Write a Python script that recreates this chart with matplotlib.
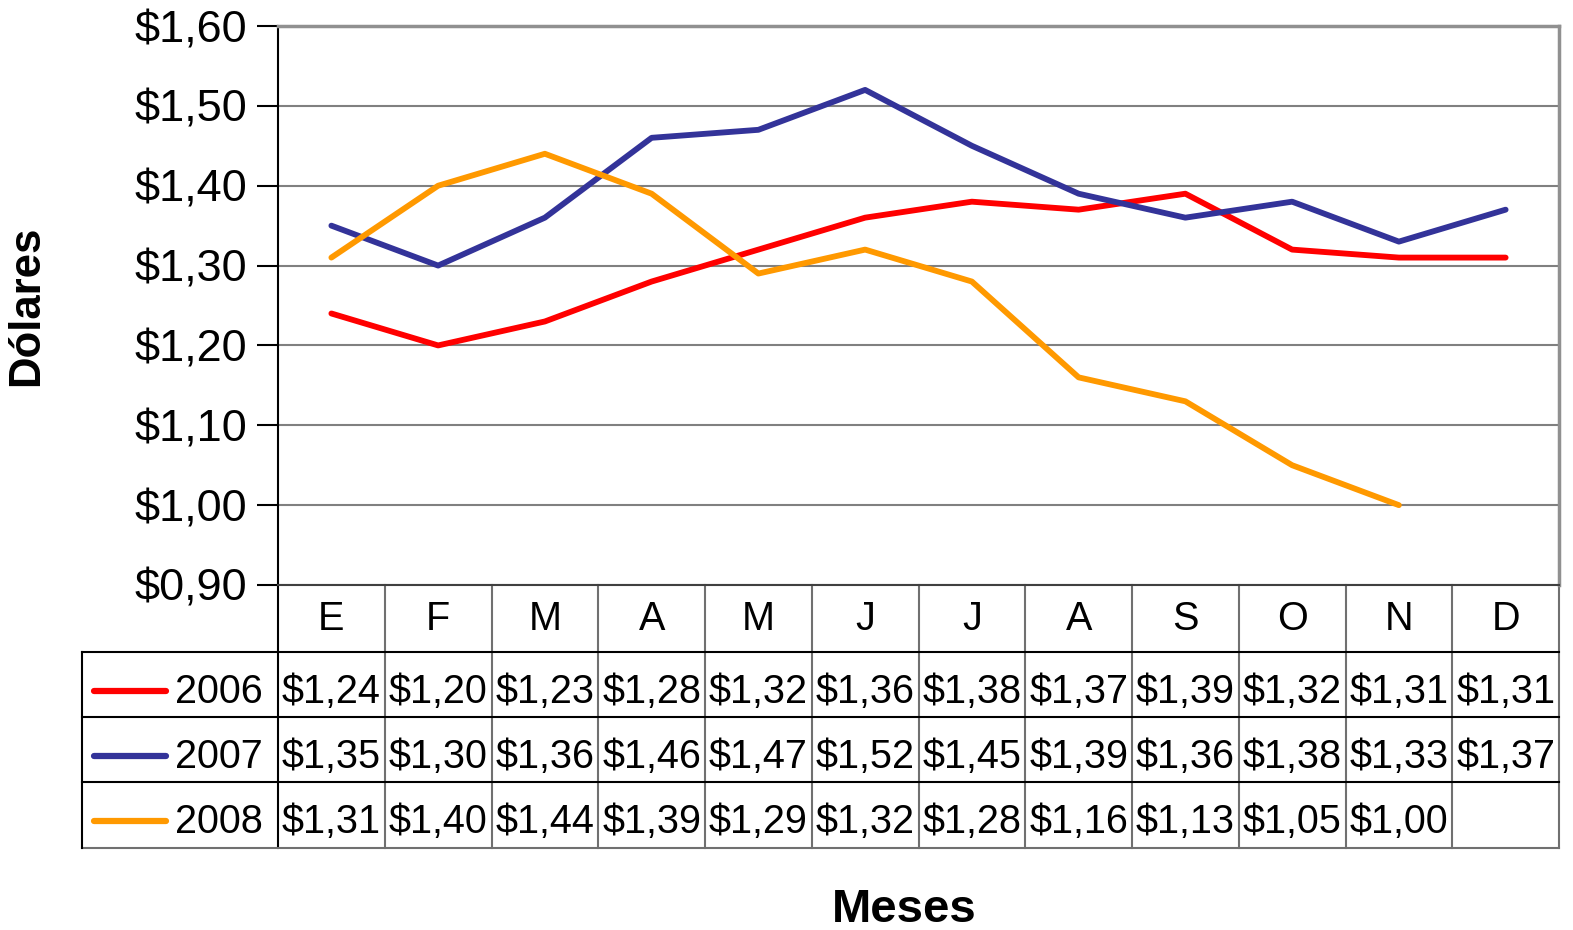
import matplotlib.pyplot as plt
from matplotlib.lines import Line2D

plt.rcParams['font.family'] = ['Liberation Sans', 'DejaVu Sans']

months = ['E', 'F', 'M', 'A', 'M', 'J', 'J', 'A', 'S', 'O', 'N', 'D']
v2006 = [1.24, 1.20, 1.23, 1.28, 1.32, 1.36, 1.38, 1.37, 1.39, 1.32, 1.31, 1.31]
v2007 = [1.35, 1.30, 1.36, 1.46, 1.47, 1.52, 1.45, 1.39, 1.36, 1.38, 1.33, 1.37]
v2008 = [1.31, 1.40, 1.44, 1.39, 1.29, 1.32, 1.28, 1.16, 1.13, 1.05, 1.00]
years = ['2006', '2007', '2008']
series = [v2006, v2007, v2008]
colors = ['#ff0000', '#333399', '#ff9900']
yticks = [0.90, 1.00, 1.10, 1.20, 1.30, 1.40, 1.50, 1.60]

W, H = 1573, 930
fig = plt.figure(figsize=(W / 100, H / 100), dpi=100)

def fx(px):
    return px / W

def fy(py):
    return 1 - py / H

# plot area
L, R, T, B = 278, 1559, 26, 585
ax = fig.add_axes([fx(L), fy(B), fx(R) - fx(L), fy(T) - fy(B)])

def ay(py):
    # pixel row -> axes fraction
    return (B - py) / (B - T)

for vals, c in zip(series, colors):
    ax.plot(range(len(vals)), vals, color=c, lw=4.2, solid_capstyle='round', solid_joinstyle='round', zorder=3)

ax.set_xlim(-0.5, 11.5)
ax.set_ylim(0.90, 1.60)
ax.set_yticks(yticks)
ax.set_yticklabels(['$' + f'{v:.2f}'.replace('.', ',') for v in yticks], fontsize=32.5)
ax.set_xticks([])
ax.tick_params(axis='y', direction='out', length=15, width=1.5, color='black', pad=7)
ax.yaxis.grid(True, color='#808080', lw=1.5)
ax.set_axisbelow(True)
ax.spines['left'].set_color('black')
ax.spines['left'].set_linewidth(1.5)
ax.spines['bottom'].set_color('#404040')
ax.spines['bottom'].set_linewidth(1.5)
for s in ['top', 'right']:
    ax.spines[s].set_color('#909090')
    ax.spines[s].set_linewidth(2.5)

# data table below the plot
tr = ax.get_xaxis_transform()
ncol = len(months)
hdr_bot, row_bots = 652, [717, 782, 848]
grid_gray = '#707070'

# vertical lines of table
for k in range(ncol + 1):
    x = k - 0.5
    ax.add_line(Line2D([x, x], [ay(B), ay(row_bots[-1])], transform=tr, color='black' if k == 0 else grid_gray,
                       lw=1.5, clip_on=False))
# horizontal lines (full width incl. legend cell)
leg_left = -0.5 - (L - 82) / ((R - L) / ncol)
for yb in [hdr_bot] + row_bots:
    ax.add_line(Line2D([leg_left, 11.5], [ay(yb), ay(yb)], transform=tr,
                       color='black' if yb != row_bots[-1] else grid_gray, lw=1.5, clip_on=False))
ax.add_line(Line2D([leg_left, leg_left], [ay(hdr_bot), ay(row_bots[-1])], transform=tr,
                   color='black', lw=1.5, clip_on=False))

# month header
for i, m in enumerate(months):
    ax.text(i, ay(630), m, transform=tr, ha='center', va='baseline', fontsize=28.5, clip_on=False)

# rows
baselines = [703, 768, 833]
for r, (yr, vals, c) in enumerate(zip(years, series, colors)):
    yb = ay(baselines[r])
    for i, v in enumerate(vals):
        ax.text(i, yb, '$' + f'{v:.2f}'.replace('.', ','), transform=tr, ha='center', va='baseline',
                fontsize=28.5, clip_on=False)
    fig.add_artist(Line2D([fx(94), fx(166)], [fy(baselines[r] - 12)] * 2, color=c, lw=4.5,
                          solid_capstyle='round'))
    fig.text(fx(263), fy(baselines[r]), yr, ha='right', va='baseline', fontsize=28.5)

fig.text(fx(47), fy(306), 'Dólares', rotation=90, ha='right', va='center', fontsize=31.5, fontweight='bold')
fig.text(fx(904), fy(922), 'Meses', ha='center', va='baseline', fontsize=34, fontweight='bold')

fig.savefig('out.png', dpi=100, facecolor='white')
